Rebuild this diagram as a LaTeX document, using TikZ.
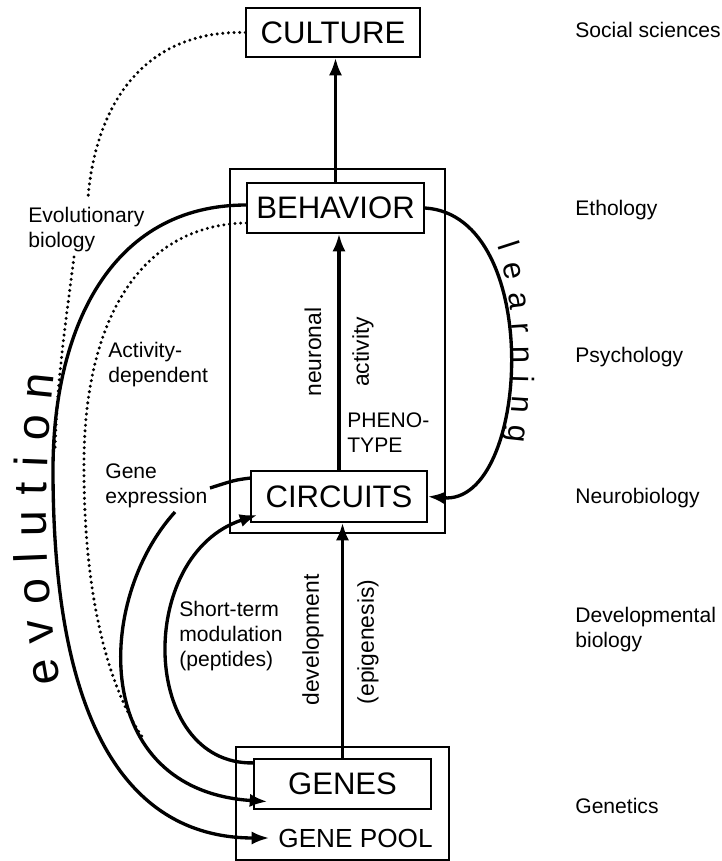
\documentclass[tikz,border=0pt]{standalone}
\usepackage{fontspec}
\setmainfont{Liberation Sans}
\usetikzlibrary{arrows.meta,decorations.text}

\begin{document}
\begin{tikzpicture}[x=0.02cm, y=-0.02cm, >={Latex[length=10pt,width=7.5pt]},
  box/.style={draw, line width=0.85pt, inner sep=0pt, font=\fontsize{17.7}{20}\selectfont},
  lbl/.style={anchor=west, align=left, inner sep=0pt, font=\fontsize{12}{14.2}\selectfont},
  vlbl/.style={rotate=90, inner sep=0pt, font=\fontsize{13}{15}\selectfont},
  arr/.style={line width=1.9pt, ->},
  thread/.style={line width=1.9pt},
  dots/.style={line width=1.9pt, line cap=round, dash pattern=on 0pt off 3.2pt}]
\useasboundingbox (0,0) rectangle (722,861);

% frames round phenotype and genotype
\draw[line width=0.85pt] (230,169) rectangle (445,533);
\draw[line width=0.85pt] (236,747) rectangle (449,860);

\node[box, minimum width=3.48cm, minimum height=0.98cm] (cult) at (333,32.5) {CULTURE};
\node[box, minimum width=3.54cm, minimum height=1.0cm] (beh) at (335.5,208) {BEHAVIOR};
\node[box, minimum width=3.52cm, minimum height=1.02cm] (circ) at (339,496.5) {CIRCUITS};
\node[box, minimum width=3.54cm, minimum height=1.0cm] (genes) at (342.5,784) {GENES};
\node[inner sep=0pt, font=\fontsize{14.9}{17}\selectfont] (pool) at (355.5,838) {GENE POOL};

% levels of description
\node[lbl] (soc) at (575,30) {Social sciences};
\node[lbl] (eth) at (575,210) {Ethology};
\node[lbl] (psy) at (575,357) {Psychology};
\node[lbl] (neu) at (575,498) {Neurobiology};
\node[lbl] (dev) at (575,630) {Developmental\\biology};
\node[lbl] (gen) at (575,806) {Genetics};

\node[lbl] (evbio) at (28,230) {Evolutionary\\biology};
\node[lbl] (actdep) at (108,364.5) {Activity-\\dependent};
\node[lbl] (gexp) at (105,485.5) {Gene\\expression};
\node[lbl] (stm) at (179,636) {Short-term\\modulation\\(peptides)};
\node[lbl] (pheno) at (347,432.5) {PHENO-\\TYPE};

\node[vlbl] (neur) at (313,352) {neuronal};
\node[vlbl] (act) at (363,352) {activity};
\node[vlbl] (devl) at (313,640) {development};
\node[vlbl] (epig) at (368,642) {(epigenesis)};

% vertical arrows
\draw[arr] (beh.north) -- (beh.north |- cult.south);
\draw[arr] (circ.north) -- (circ.north |- beh.south);
\draw[arr] (genes.north) -- (genes.north |- circ.south);

% learning loop
\draw[arr] (beh.east) .. controls (545,215) and (530,505) .. (circ.east);
\path[decorate, decoration={text along path, text align={fit to path},
  text={|\fontsize{17.5}{17.5}\selectfont|learning}}]
  (497,246) .. controls (512,290) and (518,360) .. (508,442);

% evolution
\draw[arr] ([yshift=1.7pt]beh.west) .. controls (110,205) and (53,330) .. (53,470)
  .. controls (53,760) and (150,838) .. ([xshift=-5pt]pool.west);
\path[decorate, decoration={text along path, text align={fit to path},
  text={|\fontsize{26.5}{26.5}\selectfont|evolution}}]
  (61,682) .. controls (43,590) and (43,470) .. (54,375);

% dotted links
\coordinate (eb1) at (88,198);
\coordinate (eb2) at (74,257);
\coordinate (eb3) at (55,450);
\draw[dots] (cult.west) .. controls (140,30) and (95,110) .. (eb1);
\draw[dots] (eb2) .. controls (66,320) and (57,380) .. (eb3);
\coordinate (ad) at (143,738);
\draw[dots] ([yshift=-8.5pt]beh.west) .. controls (140,225) and (85,320) .. (84,460)
  .. controls (83,600) and (110,690) .. (ad);

% gene expression and modulation
\coordinate (ge1) at (210,488);
\coordinate (ge2) at (175,512);
\draw[thread] ([yshift=10.5pt]circ.west) .. controls (235,480) .. (ge1);
\draw[arr] (ge2) .. controls (95,600) and (90,790) .. ([xshift=8pt,yshift=-10pt]genes.west);
\draw[arr] ([yshift=12pt]genes.west) .. controls (140,765) and (135,555) .. ([xshift=4pt,yshift=-10.5pt]circ.west);
\end{tikzpicture}
\end{document}
